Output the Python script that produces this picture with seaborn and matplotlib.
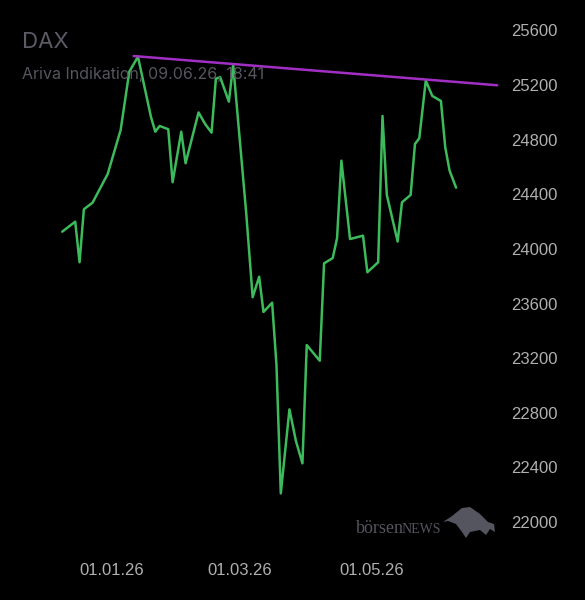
import pandas as pd
import numpy as np
import seaborn as sns
import matplotlib.pyplot as plt
import matplotlib.dates as mdates
from matplotlib.patches import Polygon

# DAX closes
dates = ['2025-12-09', '2025-12-15', '2025-12-17', '2025-12-19', '2025-12-23',
         '2025-12-30', '2026-01-05', '2026-01-09', '2026-01-13', '2026-01-19',
         '2026-01-21', '2026-01-23', '2026-01-27', '2026-01-29', '2026-02-02',
         '2026-02-04', '2026-02-10', '2026-02-13', '2026-02-16', '2026-02-18',
         '2026-02-20', '2026-02-24', '2026-02-26', '2026-03-04', '2026-03-07',
         '2026-03-10', '2026-03-12', '2026-03-16', '2026-03-18', '2026-03-20',
         '2026-03-24', '2026-03-27', '2026-03-30', '2026-04-01', '2026-04-07',
         '2026-04-09', '2026-04-13', '2026-04-15', '2026-04-17', '2026-04-21',
         '2026-04-27', '2026-04-29', '2026-05-04', '2026-05-06', '2026-05-08',
         '2026-05-13', '2026-05-15', '2026-05-19', '2026-05-21', '2026-05-23',
         '2026-05-26', '2026-05-29', '2026-06-02', '2026-06-04', '2026-06-06',
         '2026-06-09']
closes = [24126, 24199, 23902, 24290, 24338,
          24548, 24871, 25298, 25407, 24966,
          24858, 24900, 24876, 24488, 24858,
          24627, 24999, 24915, 24851, 25246,
          25257, 25078, 25347, 24266, 23646,
          23796, 23538, 23606, 23150, 22210,
          22825, 22593, 22430, 23296, 23181,
          23894, 23933, 24078, 24646, 24072,
          24097, 23829, 23902, 24973, 24395,
          24054, 24341, 24395, 24768, 24810,
          25232, 25120, 25083, 24744, 24573,
          24448]

# resistance line through the two highs
trend_dates = ['2026-01-11', '2026-06-28']
trend_values = [25412, 25198]

yticks = [22000, 22400, 22800, 23200, 23600, 24000, 24400, 24800, 25200, 25600]
xtick_dates = ['2026-01-01', '2026-03-01', '2026-05-01']

df = pd.DataFrame({'date': pd.to_datetime(dates), 'close': closes})
trend = pd.DataFrame({'date': pd.to_datetime(trend_dates), 'value': trend_values})

sns.set_style('dark')
plt.rcParams['font.family'] = ['Liberation Sans', 'DejaVu Sans']

fig = plt.figure(figsize=(5.85, 6.0), dpi=100, facecolor='black')
# axes spans x 0..500 px, y 10..545 px
ax = fig.add_axes([0.0, 55 / 600, 500 / 585, 535 / 600])
ax.set_facecolor('black')

sns.lineplot(data=df, x='date', y='close', ax=ax, color='#3dba5b', linewidth=1.8)
sns.lineplot(data=trend, x='date', y='value', ax=ax, color='#a22fc4', linewidth=1.8)

base = pd.Timestamp('2026-01-01')
ax.set_xlim(mdates.date2num(base - pd.Timedelta(days=51.76)),
            mdates.date2num(base + pd.Timedelta(days=179.3)))
ax.set_ylim(21832, 25749)

ax.yaxis.tick_right()
ax.set_yticks(yticks)
ax.set_yticklabels([str(v) for v in yticks])
ax.set_xticks(pd.to_datetime(xtick_dates))
ax.xaxis.set_major_formatter(mdates.DateFormatter('%d.%m.%y'))
ax.tick_params(axis='both', length=0, colors='#b0b0b0', labelsize=12)
ax.tick_params(axis='y', pad=8)
ax.tick_params(axis='x', pad=13)
ax.grid(False)
ax.set_xlabel('')
ax.set_ylabel('')
for s in ax.spines.values():
    s.set_visible(False)

# header
fig.text(22 / 585, 1 - 42 / 600, 'DAX', fontsize=16, color='#5b5b66',
         family=['Inter', 'DejaVu Sans'], va='center', ha='left')
fig.text(22 / 585, 1 - 75 / 600, 'Ariva Indikation, 09.06.26, 18:41', fontsize=11.5,
         color='#56565f', family=['Inter', 'DejaVu Sans'], va='center', ha='left')

# watermark
renderer = fig.canvas.get_renderer()
t1 = fig.text(356 / 585, 1 - 533 / 600, 'börsen', fontsize=13, color='#55555f',
              family=['Liberation Serif', 'DejaVu Serif'], va='baseline', ha='left')
x_end = t1.get_window_extent(renderer).x1 / fig.bbox.width
fig.text(x_end - 2.5 / 585, 1 - 533 / 600, 'NEWS', fontsize=10, color='#55555f',
         family=['Liberation Serif', 'DejaVu Serif'], va='baseline', ha='left')
bull = np.array([[443, 522], [452, 516], [462, 508], [470, 507], [480, 514],
                 [488, 522], [494, 524], [495, 532], [490, 529], [486, 535],
                 [480, 530], [470, 532], [466, 538], [462, 532], [456, 524],
                 [448, 521]])
fig.patches.append(Polygon(np.column_stack([bull[:, 0] / 585, 1 - bull[:, 1] / 600]),
                           closed=True, transform=fig.transFigure,
                           facecolor='#55555f', edgecolor='none'))

fig.savefig('out.png', dpi=100, facecolor='black')
